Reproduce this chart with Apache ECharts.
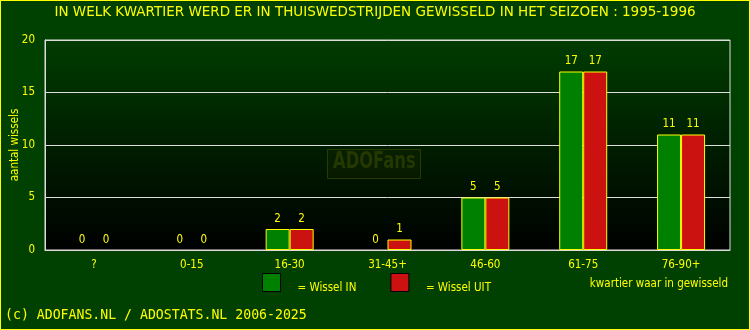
<!DOCTYPE html>
<html><head><meta charset="utf-8">
<script src="https://cdn.jsdelivr.net/npm/echarts@6/dist/echarts.min.js"></script>
<style>
html,body{margin:0;padding:0;background:#004000;}
#c{width:748px;height:328px;border:1px solid #ffff00;background:#004000;}
</style></head>
<body><div id="c"></div>
<script>
var categories = ['?', '0-15', '16-30', '31-45+', '46-60', '61-75', '76-90+'];
var wisselIn = [0, 0, 2, 0, 5, 17, 11];
var wisselUit = [0, 0, 2, 1, 5, 17, 11];
var yTicks = [0, 5, 10, 15, 20];
var titleText = 'IN WELK KWARTIER WERD ER IN THUISWEDSTRIJDEN GEWISSELD IN HET SEIZOEN : 1995-1996';
var footerText = '(c) ADOFANS.NL / ADOSTATS.NL 2006-2025';
var xName = 'kwartier waar in gewisseld';
var yName = 'aantal wissels';

var F = 'DejaVu Sans Condensed';
var Y = '#ffff00';
function toData(arr){
  return arr.map(function(v){ return v === 0 ? {value:v, itemStyle:{borderWidth:0}} : {value:v}; });
}
var chart = echarts.init(document.getElementById('c'));
chart.setOption({
  animation:false,
  backgroundColor:'#004000',
  textStyle:{fontFamily:F},
  title:[
    {text:titleText, left:'center', top:4, padding:0, textStyle:{color:Y, fontSize:13.5, fontWeight:'normal', fontFamily:'DejaVu Sans'}},
    {text:footerText, left:4, top:308, padding:0, textStyle:{color:Y, fontSize:13.2, fontWeight:'normal', fontFamily:'DejaVu Sans Mono'}},
    {text:xName, right:21, top:277, padding:0, textStyle:{color:Y, fontSize:11.5, fontWeight:'normal', fontFamily:F}}
  ],
  legend:{
    left:261, top:272, padding:0, itemWidth:18, itemHeight:18, itemGap:34,
    icon:'rect',
    itemStyle:{borderColor:'#000', borderWidth:1},
    formatter:function(n){return '{a|= ' + n + '}';},
    textStyle:{color:Y, fontSize:11.5, fontFamily:F,
      rich:{a:{color:Y, fontSize:11.5, fontFamily:F, padding:[12,0,0,12]}}},
    data:['Wissel IN','Wissel UIT']
  },
  grid:{left:44, right:19, top:39, bottom:79, show:true, containLabel:false, outerBoundsMode:'none',
    borderColor:'#dddddd', borderWidth:1,
    backgroundColor:{type:'linear', x:0, y:0, x2:0, y2:1, colorStops:[{offset:0,color:'#003c00'},{offset:1,color:'#000000'}]}},
  xAxis:{
    type:'category', data:categories,
    axisLine:{lineStyle:{color:'#dddddd'}}, axisTick:{show:false},
    axisLabel:{color:Y, fontSize:11.5, margin:9, fontFamily:F}
  },
  yAxis:{
    type:'value', min:yTicks[0], max:yTicks[yTicks.length-1], interval:5,
    name:yName, nameLocation:'middle', nameGap:24, nameMoveOverlap:false,
    nameTextStyle:{color:Y, fontSize:11.5, fontFamily:F},
    axisLine:{show:true, lineStyle:{color:'#dddddd'}}, axisTick:{show:false},
    axisLabel:{color:Y, fontSize:11.5, margin:10, fontFamily:F},
    splitLine:{lineStyle:{color:'#dddddd', width:1}}
  },
  graphic:[
    {type:'rect', left:326, top:148, shape:{width:93, height:29}, style:{fill:'rgba(50,60,0,0.15)', stroke:'#293a00', lineWidth:1}, z:0},
    {type:'text', x:332, y:150, scaleX:0.71, style:{text:'ADOFans', fill:'#243800', font:'bold 23px "DejaVu Sans"'}, z:0}
  ],
  series:[
    {name:'Wissel IN', type:'bar', barWidth:24, barGap:'0%', data:toData(wisselIn),
      itemStyle:{color:'#008000', borderColor:Y, borderWidth:1},
      label:{show:true, position:'top', color:Y, fontSize:11.5, distance:4, fontFamily:F}},
    {name:'Wissel UIT', type:'bar', barWidth:24, barGap:'0%', data:toData(wisselUit),
      itemStyle:{color:'#cc1111', borderColor:Y, borderWidth:1},
      label:{show:true, position:'top', color:Y, fontSize:11.5, distance:4, fontFamily:F}}
  ]
});
</script></body></html>
